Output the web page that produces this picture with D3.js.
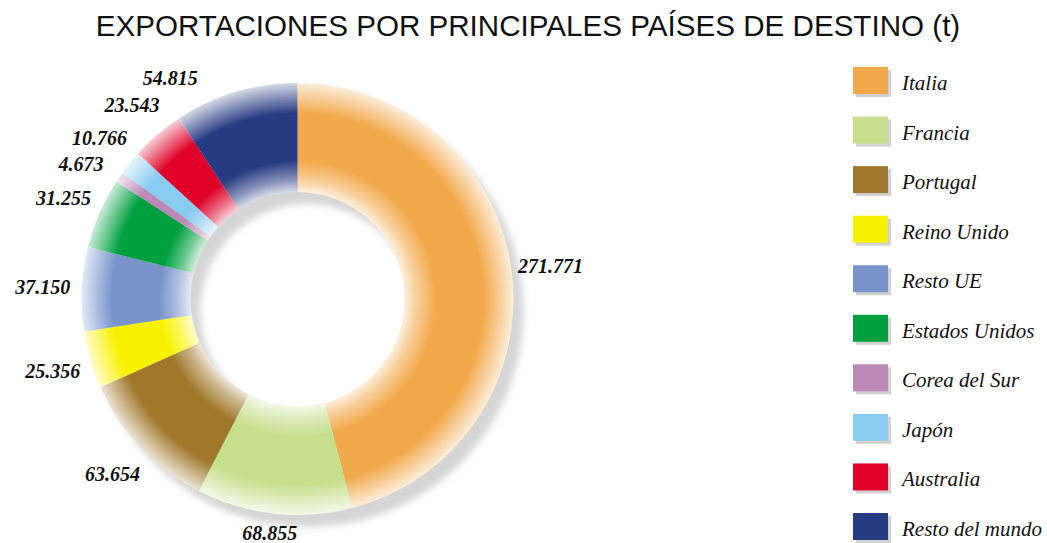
<!DOCTYPE html>
<html>
<head>
<meta charset="utf-8">
<script src="https://cdn.jsdelivr.net/npm/d3@7"></script>
<style>
  body { margin: 0; background: #fff; }
  svg { display: block; }
</style>
</head>
<body>
<svg id="chart" width="1047" height="543"></svg>
<script>
// data (t)
const countries = ['Italia', 'Francia', 'Portugal', 'Reino Unido', 'Resto UE',
    'Estados Unidos', 'Corea del Sur', 'Japón', 'Australia', 'Resto del mundo'];
const tonnes = [271771, 68855, 63654, 25356, 37150, 31255, 4673, 10766, 23543, 54815];
const valueLabels = ['271.771', '68.855', '63.654', '25.356', '37.150',
    '31.255', '4.673', '10.766', '23.543', '54.815'];
const sliceColors = ['#f2a94b', '#c6df8d', '#a0782b', '#f8f200', '#7894cb',
    '#00a03f', '#bc88b6', '#88ccf1', '#e00028', '#283c84'];

let width = 1047, height = 543;
let cx = 297.5, cy = 299;
let outer_r = 216, inner_r = 107;
let label_r = 255;

var svg = d3.select('#chart');
var defs = svg.append('defs');

// blur for the drop shadow
defs.append('filter')
    .attr('id', 'soft')
    .attr('x', '-20%').attr('y', '-20%').attr('width', '140%').attr('height', '140%')
    .append('feGaussianBlur')
    .attr('stdDeviation', 3.5);

// one radial fade per slice, light at both rims
let fade_stops = [
    [inner_r / outer_r, 0.18],
    [0.55, 0.55],
    [0.64, 1],
    [0.86, 1],
    [0.93, 0.6],
    [1, 0.2]
];
sliceColors.forEach(function (c, i) {
    var g = defs.append('radialGradient')
        .attr('id', 'fade' + i)
        .attr('gradientUnits', 'userSpaceOnUse')
        .attr('cx', 0).attr('cy', 0).attr('r', outer_r);
    fade_stops.forEach(function (s) {
        g.append('stop')
            .attr('offset', s[0])
            .attr('stop-color', d3.interpolateRgb('#ffffff', c)(s[1]));
    });
});

// title
svg.append('text')
    .attr('x', 528)
    .attr('y', 36)
    .attr('text-anchor', 'middle')
    .attr('font-family', 'Liberation Sans, Arial, sans-serif')
    .attr('font-size', 29.6)
    .attr('fill', '#111')
    .text('EXPORTACIONES POR PRINCIPALES PAÍSES DE DESTINO (t)');

var pie = d3.pie().sort(null).value(function (d) { return d; });
var arcs = pie(tonnes);

var ring = d3.arc().innerRadius(inner_r).outerRadius(outer_r);
var fullRing = d3.arc().innerRadius(inner_r).outerRadius(outer_r)
    .startAngle(0).endAngle(2 * Math.PI);

// shadow under the ring
svg.append('path')
    .attr('transform', 'translate(' + (cx + 10) + ',' + (cy + 12) + ')')
    .attr('d', fullRing())
    .attr('fill', '#d6d6d6')
    .attr('filter', 'url(#soft)');

var donut = svg.append('g')
    .attr('transform', 'translate(' + cx + ',' + cy + ')');

donut.selectAll('path')
    .data(arcs)
    .enter()
    .append('path')
    .attr('d', ring)
    .attr('fill', function (d, i) { return 'url(#fade' + i + ')'; });

// value labels: start at the slice's mid angle, keep them inside the
// picture and push crowded ones on the left side apart
let top_limit = 78 - cy, bottom_limit = 533 - cy, min_gap = 26;
var labelArc = d3.arc().innerRadius(label_r).outerRadius(label_r);
var spots = arcs.map(function (d, i) {
    let p = labelArc.centroid(d);
    return {i: i, x: p[0], y: p[1], left: p[0] < 0};
});
spots.forEach(function (s) {
    if (s.y > bottom_limit) s.y = bottom_limit;
    if (s.y < top_limit) {
        s.y = top_limit;
        s.x = -Math.sqrt(label_r * label_r - s.y * s.y) * (s.left ? 1 : -1);
    }
});
var leftSide = spots.filter(function (s) { return s.left; })
    .sort(function (a, b) { return a.y - b.y; });
for (let k = 1; k < leftSide.length; k++) {
    let prev = leftSide[k - 1], cur = leftSide[k];
    if (cur.y - prev.y < min_gap) {
        cur.y = prev.y + min_gap;
        if (Math.abs(cur.y) < label_r) cur.x = -Math.sqrt(label_r * label_r - cur.y * cur.y);
    }
}

donut.selectAll('text.value')
    .data(spots)
    .enter()
    .append('text')
    .attr('class', 'value')
    .attr('x', function (s) { return s.x; })
    .attr('y', function (s) { return s.y; })
    .attr('dy', '0.35em')
    .attr('text-anchor', 'middle')
    .attr('font-family', 'Liberation Serif, Times New Roman, serif')
    .attr('font-style', 'italic')
    .attr('font-weight', 'bold')
    .attr('font-size', 20)
    .attr('fill', '#111')
    .text(function (s) { return valueLabels[s.i]; });

// legend
var legendY = d3.scalePoint()
    .domain(countries)
    .range([81, 527]);

var legend = svg.append('g');
var item = legend.selectAll('g')
    .data(countries)
    .enter()
    .append('g')
    .attr('transform', function (d) { return 'translate(853,' + legendY(d) + ')'; });

item.append('rect')
    .attr('x', 3).attr('y', -11)
    .attr('width', 35).attr('height', 27)
    .attr('fill', '#d2d2d2');
item.append('rect')
    .attr('x', 0).attr('y', -14)
    .attr('width', 35).attr('height', 27)
    .attr('fill', function (d, i) { return sliceColors[i]; });
item.append('text')
    .attr('x', 49)
    .attr('y', 9)
    .attr('font-family', 'Liberation Serif, Times New Roman, serif')
    .attr('font-style', 'italic')
    .attr('font-size', 21)
    .attr('fill', '#111')
    .text(function (d) { return d; });
</script>
</body>
</html>
